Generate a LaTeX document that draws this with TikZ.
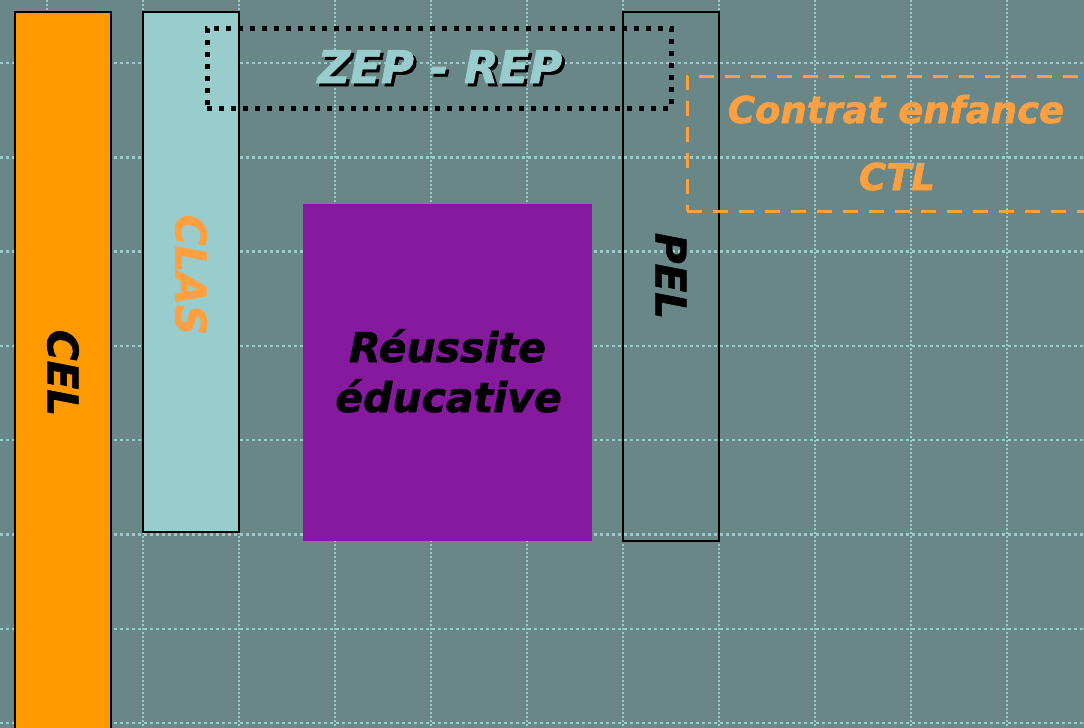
\documentclass[tikz,border=0pt]{standalone}
\usepackage{fontspec}
\setmainfont{DejaVu Sans}
\newfontfamily\heavyfont{DejaVu Sans}[FakeBold=1.5]
\definecolor{bgc}{HTML}{698787}
\definecolor{gridc}{HTML}{9ACCCC}
\definecolor{barorange}{HTML}{FF9900}
\definecolor{claslight}{HTML}{99CCCC}
\definecolor{purplebox}{HTML}{861A9E}
\definecolor{txtorange}{HTML}{FFA040}
\begin{document}
\begin{tikzpicture}[x=1pt,y=-1pt,
  hgrid/.style={gridc, line width=2.5pt, dash pattern=on 3pt off 3pt},
  vgrid/.style={gridc, line width=1.5pt, dash pattern=on 2pt off 2pt},
  bar/.style={draw=black, line width=1.8pt, minimum width=96pt, inner sep=0pt, outer sep=0pt},
  lbl/.style={font=\heavyfont\fontsize{42}{50}\selectfont\bfseries\itshape, inner sep=0pt, outer sep=0pt},
  biglbl/.style={font=\heavyfont\fontsize{45}{50}\selectfont\bfseries\itshape, inner sep=0pt, outer sep=0pt},
  midlbl/.style={font=\heavyfont\fontsize{41}{50}\selectfont\bfseries\itshape, inner sep=0pt, outer sep=0pt},
  ctllbl/.style={font=\heavyfont\fontsize{37}{45}\selectfont\bfseries\itshape, inner sep=0pt, outer sep=0pt, text=txtorange},
  zepbox/.style={draw=black, line width=5pt, dash pattern=on 5pt off 7pt, inner sep=0pt},
  ctlbox/.style={draw=txtorange, line width=3pt, dash pattern=on 15pt off 11pt, inner sep=0pt},
]
\useasboundingbox (0,0) rectangle (1084,728);
\clip (0,0) rectangle (1084,728);
\fill[bgc] (0,0) rectangle (1084,728);
% grid
\foreach \k in {0,...,7} \draw[hgrid] (0,{63+94.3*\k}) -- (1084,{63+94.3*\k});
\foreach \k in {0,...,11} \draw[vgrid] ({47+96*\k},0) -- ({47+96*\k},728);
% bars and boxes
\node[bar, fill=barorange, minimum height=740pt] (cel) at (63,382) {};
\node[bar, fill=claslight, minimum height=520pt] (clas) at (191,272) {};
\node[fill=purplebox, minimum width=289pt, minimum height=337pt, inner sep=0pt] (reussite) at (447.5,372.5) {};
\node[bar, minimum height=529pt] (pel) at (671,276.5) {};
\node[zepbox, minimum width=464pt, minimum height=80pt] (zep) at (439,68) {};
\node[ctlbox, minimum width=440pt, minimum height=135pt] (ctl) at (907,143.5) {};
% labels
\node[lbl, rotate=-90] (celtxt) at (63,373) {CEL};
\node[lbl, rotate=-90, text=txtorange] (clastxt) at (191,275) {CLAS};
\node[lbl, rotate=-90] (peltxt) at (671,276) {PEL};
\node[midlbl, anchor=base] (reu1) at (447.5,362) {Réussite};
\node[midlbl, anchor=base] (reu2) at (448.5,412) {éducative};
\node[biglbl, anchor=base, text=black] (zepshadow) at (443,86) {ZEP - REP};
\node[biglbl, anchor=base, text=claslight] (zeptxt) at (440,83) {ZEP - REP};
\node[ctllbl, anchor=base] (ctl1) at (896,123) {Contrat enfance};
\node[ctllbl, anchor=base] (ctl2) at (897,190) {CTL};
\end{tikzpicture}
\end{document}
